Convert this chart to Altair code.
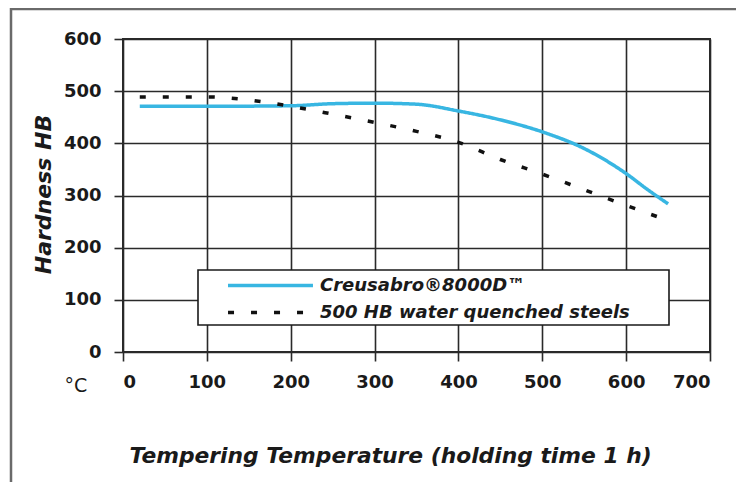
import altair as alt
import pandas as pd

# ---- data ----
temp_creusabro = [20, 100, 200, 250, 300, 350, 400, 450, 500, 550, 600, 625, 650]
hb_creusabro = [471, 471, 472, 476, 477, 475, 462, 445, 422, 390, 342, 312, 284]

temp_water = [20, 100, 150, 200, 250, 300, 350, 400, 450, 500, 550, 600, 650]
hb_water = [489, 489, 483, 471, 456, 440, 423, 402, 369, 341, 311, 281, 252]

series_names = ["Creusabro®8000D™", "500 HB water quenched steels"]
series_colors = ["#38B6E2", "#111111"]
series_dashes = [[1, 0], [6, 17]]

x_ticks = [0, 100, 200, 300, 400, 500, 600, 700]
y_ticks = [0, 100, 200, 300, 400, 500, 600]

x_title = "Tempering Temperature (holding time 1 h)"
y_title = "Hardness HB"
unit_label = "°C"

# ---- build table ----
rows = []
for t, h in zip(temp_creusabro, hb_creusabro):
    rows.append({"temp": t, "hb": h, "series": series_names[0]})
for t, h in zip(temp_water, hb_water):
    rows.append({"temp": t, "hb": h, "series": series_names[1]})
df = pd.DataFrame(rows)

FONT = "DejaVu Sans"
INK = "#1a1a1a"
W, H = 587, 313

x_enc = alt.X(
    "temp:Q",
    scale=alt.Scale(domain=[0, 700], nice=False),
    axis=alt.Axis(
        values=x_ticks,
        grid=True,
        gridColor="#2a2a2a",
        gridWidth=1.6,
        domain=False,
        tickColor="#2a2a2a",
        tickWidth=1.6,
        tickSize=9,
        labelFont=FONT,
        labelFontSize=18,
        labelFontWeight="bold",
        labelColor=INK,
        labelPadding=12,
        title=x_title,
        titleFont=FONT,
        titleFontSize=21.8,
        titleFontStyle="italic",
        titleFontWeight="bold",
        titleColor=INK,
        titleX=267,
        titleY=110,
        titleAlign="center",
        titleBaseline="alphabetic",
    ),
)

y_enc = alt.Y(
    "hb:Q",
    scale=alt.Scale(domain=[0, 600], nice=False),
    axis=alt.Axis(
        values=y_ticks,
        grid=True,
        gridColor="#2a2a2a",
        gridWidth=1.6,
        domain=False,
        tickColor="#2a2a2a",
        tickWidth=1.6,
        tickSize=9,
        labelFont=FONT,
        labelFontSize=18,
        labelFontWeight="bold",
        labelColor=INK,
        labelPadding=13,
        title=y_title,
        titleFont=FONT,
        titleFontSize=22,
        titleFontStyle="italic",
        titleFontWeight="bold",
        titleColor=INK,
        titleAngle=270,
        titleX=-73,
        titleY=155,
        titleAlign="center",
        titleBaseline="alphabetic",
    ),
)

# an invisible spacer title on the right widens the legend box to the reference's width
legend_spacer = "."

lines = alt.Chart(df).mark_line(strokeWidth=3.5, interpolate="monotone", strokeCap="butt").encode(
    x=x_enc,
    y=y_enc,
    color=alt.Color(
        "series:N",
        scale=alt.Scale(domain=series_names, range=series_colors),
        legend=alt.Legend(title=legend_spacer),
    ),
    strokeDash=alt.StrokeDash(
        "series:N",
        scale=alt.Scale(domain=series_names, range=series_dashes),
        legend=alt.Legend(title=legend_spacer),
    ),
)

unit_df = pd.DataFrame({"label": [unit_label]})
unit = alt.Chart(unit_df).mark_text(
    font=FONT, fontSize=19, color=INK, align="center", baseline="middle"
).encode(text="label:N", x=alt.value(-47), y=alt.value(H + 34))

frame_df = pd.DataFrame({"k": [0]})
frame = alt.Chart(frame_df).mark_rect(filled=False, stroke="#6a6a6a", strokeWidth=2.5).encode(
    x=alt.value(-112), x2=alt.value(W + 400), y=alt.value(-30), y2=alt.value(H + 400)
)

chart = (
    alt.layer(frame, lines, unit)
    .properties(
        width=W,
        height=H,
        autosize=alt.AutoSizeParams(type="none"),
        padding={"left": 115, "top": 31, "right": 26, "bottom": 130},
        background="white",
    )
    .configure_view(stroke="#2a2a2a", strokeWidth=2)
    .configure_legend(
        orient="none",
        legendX=75,
        legendY=231,
        direction="vertical",
        fillColor="white",
        strokeColor="#1a1a1a",
        strokeWidth=1.6,
        padding=3,
        rowPadding=5,
        symbolType="M-4,0H4",
        symbolSize=451,
        symbolStrokeWidth=3.5,
        symbolOffset=57,
        labelOffset=37,
        labelFont=FONT,
        labelFontSize=18,
        labelFontStyle="italic",
        labelFontWeight="bold",
        labelColor=INK,
        labelLimit=700,
        titleOrient="right",
        titlePadding=33,
        titleFontSize=8,
        titleColor="white",
        titleOpacity=0,
    )
)

chart.save("out.html", embed_options={"renderer": "svg", "actions": False})
